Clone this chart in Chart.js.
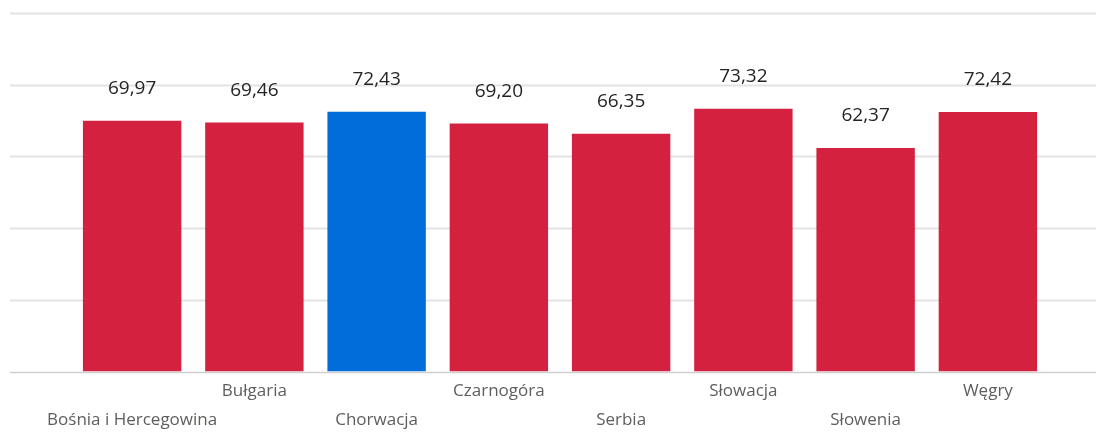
<!DOCTYPE html>
<html>
<head>
<meta charset="utf-8">
<script src="https://cdn.jsdelivr.net/npm/chart.js@4/dist/chart.umd.min.js"></script>
<style>
  html, body { margin: 0; padding: 0; background: #fff; }
  #wrap { width: 1096px; height: 433px; }
</style>
</head>
<body>
<div id="wrap"><canvas id="chart"></canvas></div>
<script>
const countries = ['Bośnia i Hercegowina', 'Bułgaria', 'Chorwacja', 'Czarnogóra', 'Serbia', 'Słowacja', 'Słowenia', 'Węgry'];
const values = [69.97, 69.46, 72.43, 69.20, 66.35, 73.32, 62.37, 72.42];
const highlight = 'Chorwacja';

const RED = '#d42140';
const BLUE = '#006ddb';

// gridlines run past the plot area, across the whole canvas
const fullGrid = {
  id: 'fullGrid',
  beforeDatasetsDraw(chart) {
    const { ctx, scales: { y } } = chart;
    ctx.save();
    y.ticks.forEach(t => {
      const py = Math.round(y.getPixelForValue(t.value)) + 0.5;
      ctx.strokeStyle = t.value === 0 ? '#cfcfcf' : '#e3e3e3';
      ctx.lineWidth = t.value === 0 ? 1.5 : 2;
      ctx.beginPath();
      ctx.moveTo(10, py);
      ctx.lineTo(chart.width, py);
      ctx.stroke();
    });
    ctx.restore();
  }
};

// value labels above bars (comma decimals)
const barLabels = {
  id: 'barLabels',
  afterDatasetsDraw(chart) {
    const { ctx } = chart;
    const meta = chart.getDatasetMeta(0);
    ctx.save();
    ctx.font = '19px "Open Sans"';
    ctx.fillStyle = '#252423';
    ctx.textAlign = 'center';
    ctx.textBaseline = 'middle';
    meta.data.forEach((bar, i) => {
      ctx.fillText(values[i].toFixed(2).replace('.', ','), bar.x, bar.y - 32);
    });
    ctx.restore();
  }
};

new Chart(document.getElementById('chart'), {
  type: 'bar',
  data: {
    labels: countries,
    datasets: [{
      data: values,
      backgroundColor: countries.map(c => c === highlight ? BLUE : RED),
      borderWidth: 0,
      categoryPercentage: 0.805,
      barPercentage: 1
    }]
  },
  options: {
    responsive: true,
    maintainAspectRatio: false,
    animation: false,
    layout: { padding: { left: 71, right: 47, top: 13, bottom: -7 } },
    plugins: { legend: { display: false }, tooltip: { enabled: false } },
    scales: {
      x: {
        grid: { display: false, drawTicks: false },
        border: { display: false },
        ticks: {
          autoSkip: false,
          maxRotation: 0,
          padding: 5,
          color: '#605e5c',
          font: { family: '"Open Sans"', size: 17, lineHeight: 1.72 },
          callback(v, i) { return i % 2 === 0 ? ['', countries[i]] : [countries[i], '']; }
        }
      },
      y: {
        display: false,
        min: 0,
        max: 100,
        ticks: { stepSize: 20 }
      }
    }
  },
  plugins: [fullGrid, barLabels]
});
</script>
</body>
</html>
